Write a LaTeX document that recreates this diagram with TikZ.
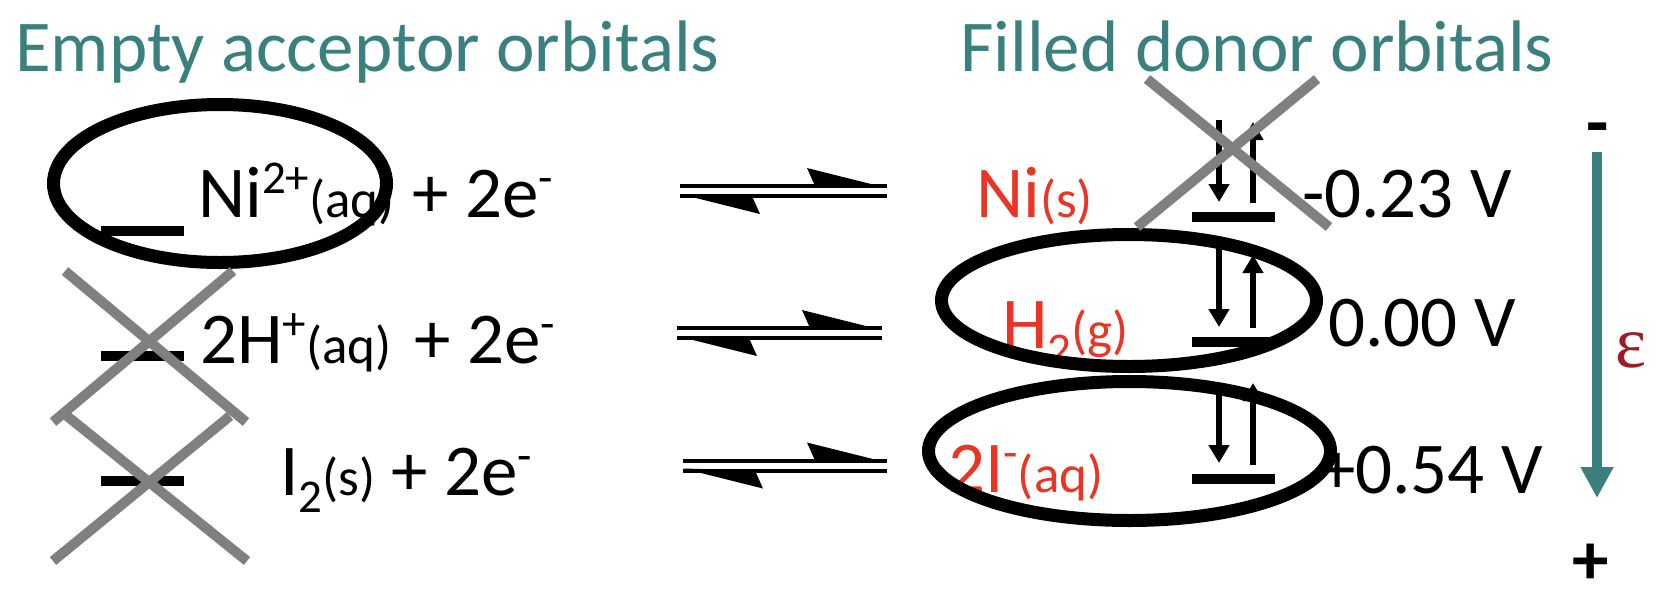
\documentclass[tikz,border=0pt]{standalone}
\usepackage{fontspec}
\setmainfont{Carlito}
\newfontfamily\epsfont{Liberation Serif}
\usetikzlibrary{arrows.meta}
\definecolor{tealc}{RGB}{58,128,126}
\definecolor{redc}{RGB}{233,53,38}
\definecolor{epsc}{RGB}{158,28,42}
\definecolor{grayc}{RGB}{128,128,128}
\newcommand\upx[1]{\raisebox{24pt}{\fontsize{47}{47}\selectfont #1}}
\newcommand\dnx[1]{\raisebox{-17pt}{\fontsize{47}{47}\selectfont #1}}
\newcommand\phx[1]{{\fontsize{53}{53}\selectfont #1}}
\begin{document}
\begin{tikzpicture}[x=1pt,y=-1pt,
  txt/.style={anchor=base west, inner sep=0pt, font=\fontsize{73}{80}\selectfont},
  ttl/.style={txt, text=tealc},
  redsp/.style={txt, text=redc},
  levelbar/.style={rectangle, fill=black, inner sep=0pt, minimum width=83pt, minimum height=10pt},
  earrow/.style={line width=6pt, -{Triangle[width=20pt,length=18pt]}},
  ring/.style={line width=13pt, black},
  xmark/.style={line width=10pt, grayc},
  eqline/.style={line width=4pt},
  sign/.style={anchor=base, inner sep=0pt, font=\bfseries\fontsize{73}{80}\selectfont},
]
\useasboundingbox (0,0) rectangle (1666,606);

% titles
\node[ttl] (t1) at (15,71) {Empty acceptor orbitals};
\node[ttl] (t2) at (960,71) {Filled donor orbitals};

% left levels
\node[levelbar] (la) at (142.5,231) {};
\node[levelbar] (lb) at (142.5,356) {};
\node[levelbar] (lc) at (142.5,480.5) {};
% right levels
\node[levelbar] (ra) at (1233,217) {};
\node[levelbar] (rb) at (1233,342) {};
\node[levelbar] (rc) at (1233,478.5) {};

% left species
\node[txt] (ni2) at (198,217) {Ni\upx{2+}\phx{(aq)}};
\node[txt] (e1) at (412,217) {+ 2e\upx{-}};
\node[txt] (hp) at (200,363) {2H\upx{+}\phx{(aq)}};
\node[txt] (e2) at (414,363) {+ 2e\upx{-}};
\node[txt] (i2) at (280,495) {I\dnx{2}\phx{(s)}};
\node[txt] (e3) at (391,495) {+ 2e\upx{-}};

% right species
\node[redsp] (nis) at (976,217) {Ni\phx{(s)}};
\node[redsp] (h2) at (1002,348) {H\dnx{2}\phx{(g)}};
\node[redsp] (iq) at (948,492) {2I\upx{-}\phx{(aq)}};

% potentials
\node[txt] (v1) at (1302,217) {-0.23 V};
\node[txt] (v2) at (1328,346) {0.00 V};
\node[txt] (v3) at (1319,493) {+0.54 V};

% equilibrium harpoons
\foreach \r/\yy/\xl/\xr in {1/191/680/887, 2/333/677/882, 3/465.5/683/887}{
  \coordinate (q\r L) at (\xl,\yy);
  \coordinate (q\r R) at (\xr,\yy);
  \draw[eqline] ([yshift=5pt]q\r L) -- ([yshift=5pt]q\r R);
  \draw[eqline] ([yshift=-5pt]q\r L) -- ([yshift=-5pt]q\r R);
  \fill ([shift={(0pt,3pt)}]q\r R) -- ([shift={(-80pt,23pt)}]q\r R) -- ([shift={(-72pt,5pt)}]q\r R) -- cycle;
  \fill ([shift={(0pt,-3pt)}]q\r L) -- ([shift={(80pt,-23pt)}]q\r L) -- ([shift={(72pt,-5pt)}]q\r L) -- cycle;
}

% electron arrows
\coordinate (da1) at (1219,120); \coordinate (db1) at (1219,202);
\coordinate (ua1) at (1253,203); \coordinate (ub1) at (1253,122);
\coordinate (da2) at (1219,248); \coordinate (db2) at (1219,327);
\coordinate (ua2) at (1253,328); \coordinate (ub2) at (1253,255);
\coordinate (da3) at (1219,383); \coordinate (db3) at (1219,463);
\coordinate (ua3) at (1253,465); \coordinate (ub3) at (1253,383);
\foreach \k in {1,2,3}{
  \draw[earrow] (da\k) -- (db\k);
  \draw[earrow] (ua\k) -- (ub\k);
}

% rings
\draw[ring] (220,183.5) ellipse [x radius=166.5pt, y radius=79pt];
\draw[ring] (1129,300.5) ellipse [x radius=187.5pt, y radius=66pt];
\draw[ring] (1129.5,451) ellipse [x radius=201pt, y radius=69.5pt];

% crosses
\draw[xmark] (65,271) -- (246,422);
\draw[xmark] (233,271) -- (53,422);
\draw[xmark] (67,416) -- (247,561);
\draw[xmark] (230,416) -- (53,561);
\draw[xmark] (1147,79) -- (1329,227);
\draw[xmark] (1317,79) -- (1137,227);

% energy axis
\coordinate (eT) at (1597,152);
\coordinate (eB) at (1597,498);
\draw[line width=10pt, tealc, -{Triangle[width=31pt,length=31pt]}] (eT) -- (eB);
\node[sign] (mn) at (1598,147) {-};
\node[sign] (pl) at (1591,584) {+};
\node[anchor=base, inner sep=0pt, text=epsc, font=\epsfont\fontsize{74}{80}\selectfont] (eps) at (1631,367) {ε};
\end{tikzpicture}
\end{document}
